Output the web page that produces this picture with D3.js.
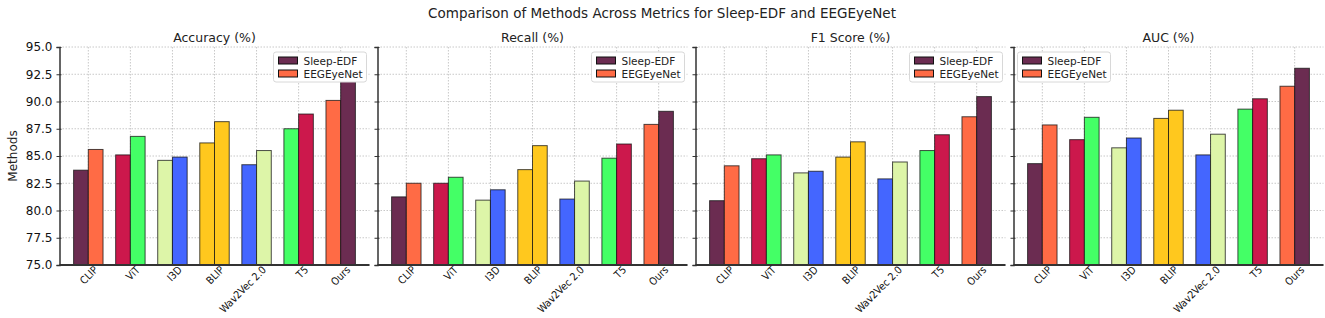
<!DOCTYPE html>
<html>
<head>
<meta charset="utf-8">
<script src="https://cdn.jsdelivr.net/npm/d3@7"></script>
<style>
  body { margin: 0; background: #fff; }
  svg { font-family: "DejaVu Sans", sans-serif; }
  .xl { font-family: "DejaVu Sans Condensed", "DejaVu Sans", sans-serif; font-stretch: condensed; }
</style>
</head>
<body>
<div id="vis"></div>
<script>
// datos (barra izquierda / barra derecha de cada grupo)
const METHODS = ["CLIP", "ViT", "I3D", "BLIP", "Wav2Vec 2.0", "T5", "Ours"];
const METRICS = ["Accuracy (%)", "Recall (%)", "F1 Score (%)", "AUC (%)"];
const SERIES = ["Sleep-EDF", "EEGEyeNet"];

const sleepEdf = [
  [83.7, 85.1, 84.6, 86.2, 84.2, 87.5, 90.1],    // Accuracy
  [81.25, 82.5, 80.95, 83.75, 81.05, 84.8, 87.9], // Recall
  [80.9, 84.75, 83.45, 84.9, 82.9, 85.5, 88.6],   // F1
  [84.3, 86.5, 85.75, 88.45, 85.1, 89.3, 91.4]    // AUC
];
const eegEyeNet = [
  [85.6, 86.8, 84.9, 88.15, 85.5, 88.85, 92.0],
  [82.5, 83.05, 81.9, 85.95, 82.7, 86.1, 89.1],
  [84.1, 85.1, 83.6, 86.3, 84.45, 86.95, 90.45],
  [87.85, 88.55, 86.65, 89.2, 87.0, 90.25, 93.05]
];
const Y_TICKS = [75.0, 77.5, 80.0, 82.5, 85.0, 87.5, 90.0, 92.5, 95.0];

// colores por barra (tal como aparecen)
const PURPLE = "#6b2c51", ORANGE = "#ff6b45", CRIMSON = "#cc184c", GREEN = "#44ff66",
      LIME = "#ddf5a8", BLUE = "#4466ff", GOLD = "#ffc81e";
const COLORS_A = [PURPLE, CRIMSON, LIME, GOLD, BLUE, GREEN, ORANGE];
const COLORS_B = [ORANGE, GREEN, BLUE, GOLD, LIME, CRIMSON, PURPLE];
const LEGEND_POS = ["right", "right", "right", "left"];

const WIDTH = 1325, HEIGHT = 318;
const PANEL_X = [59.5, 377.5, 695.5, 1013.5];
const PANEL_W = 310;
const TOP = 47, BOTTOM = 265;
const BAR_W = 0.35;

const svg = d3.select("#vis").append("svg").attr("width", WIDTH).attr("height", HEIGHT);

svg.append("text").attr("x", 662).attr("y", 18).attr("text-anchor", "middle")
  .attr("font-size", 13.5).attr("fill", "#222")
  .text("Comparison of Methods Across Metrics for Sleep-EDF and EEGEyeNet");

svg.append("text").attr("transform", `translate(17, ${(TOP + BOTTOM) / 2}) rotate(-90)`)
  .attr("text-anchor", "middle").attr("font-size", 12).attr("fill", "#222").text("Methods");

const y = d3.scaleLinear().domain([75, 95]).range([BOTTOM, TOP]);

METRICS.forEach((metric, m) => {
  const x0 = PANEL_X[m];
  const x = d3.scaleLinear().domain([-0.685, 6.685]).range([x0, x0 + PANEL_W]);
  const g = svg.append("g");

  // grid
  g.selectAll(".hg").data(Y_TICKS).join("line")
    .attr("x1", x0).attr("x2", x0 + PANEL_W)
    .attr("y1", d => y(d)).attr("y2", d => y(d))
    .attr("stroke", "#c8c8c8").attr("stroke-width", 1).attr("stroke-dasharray", "1.5,1.5");
  g.selectAll(".vg").data(METHODS).join("line")
    .attr("x1", (d, i) => x(i)).attr("x2", (d, i) => x(i))
    .attr("y1", TOP).attr("y2", BOTTOM)
    .attr("stroke", "#c8c8c8").attr("stroke-width", 1).attr("stroke-dasharray", "1.5,1.5");

  // barras
  const rows = METHODS.map((name, i) => ({ i, a: sleepEdf[m][i], b: eegEyeNet[m][i] }));
  g.selectAll(".ba").data(rows).join("rect")
    .attr("x", d => x(d.i - BAR_W)).attr("width", x(BAR_W) - x(0))
    .attr("y", d => y(d.a)).attr("height", d => BOTTOM - y(d.a))
    .attr("fill", d => COLORS_A[d.i]).attr("stroke", "#111").attr("stroke-opacity", 0.75).attr("stroke-width", 1);
  g.selectAll(".bb").data(rows).join("rect")
    .attr("x", d => x(d.i)).attr("width", x(BAR_W) - x(0))
    .attr("y", d => y(d.b)).attr("height", d => BOTTOM - y(d.b))
    .attr("fill", d => COLORS_B[d.i]).attr("stroke", "#111").attr("stroke-opacity", 0.75).attr("stroke-width", 1);

  // eje y
  const yAxis = g.append("g").attr("transform", `translate(${x0},0)`)
    .call(d3.axisLeft(y).tickValues(Y_TICKS).tickSize(3).tickPadding(4)
      .tickFormat(m === 0 ? d3.format(".1f") : ""));
  yAxis.select(".domain").attr("stroke", "#333").attr("stroke-width", 1.5);
  yAxis.selectAll(".tick line").attr("stroke", "#333").attr("x2", 2).attr("x1", -3);
  yAxis.selectAll("text").attr("font-size", 12).attr("fill", "#111").attr("font-family", "DejaVu Sans");

  // eje x
  const xAxis = g.append("g").attr("transform", `translate(0,${BOTTOM})`)
    .call(d3.axisBottom(x).tickValues(d3.range(METHODS.length)).tickSize(0).tickFormat(i => METHODS[i]));
  xAxis.select(".domain").attr("stroke", "#333").attr("stroke-width", 2).attr("d", `M${x0},0H${x0 + PANEL_W}`);
  xAxis.attr("font-family", null);
  xAxis.selectAll("text")
    .attr("class", "xl")
    .attr("font-size", 10.5).attr("fill", "#111")
    .attr("text-anchor", "end").attr("dy", "0.75em").attr("y", 3).attr("x", 3)
    .attr("transform", "rotate(-45)");

  // titulo
  g.append("text").attr("x", x0 + PANEL_W / 2).attr("y", 42).attr("text-anchor", "middle")
    .attr("font-size", 12.5).attr("fill", "#222").text(metric);

  // leyenda
  const lw = 93, lh = 30;
  const lx = LEGEND_POS[m] === "right" ? x0 + PANEL_W - lw - 3 : x0 + 4;
  const lg = g.append("g").attr("transform", `translate(${lx},${TOP + 5})`);
  lg.append("rect").attr("width", lw).attr("height", lh).attr("rx", 2.5)
    .attr("fill", "#fff").attr("stroke", "#d8d8d8");
  lg.selectAll(".li").data(SERIES).join("g")
    .attr("transform", (d, k) => `translate(5,${5 + k * 13})`)
    .each(function (d, k) {
      const s = d3.select(this);
      s.append("rect").attr("width", 19).attr("height", 7)
        .attr("fill", k === 0 ? PURPLE : ORANGE).attr("stroke", "#111").attr("stroke-width", 1);
      s.append("text").attr("x", 25).attr("y", 7.5).attr("font-size", 10.5).attr("fill", "#222").text(d);
    });
});
</script>
</body>
</html>
